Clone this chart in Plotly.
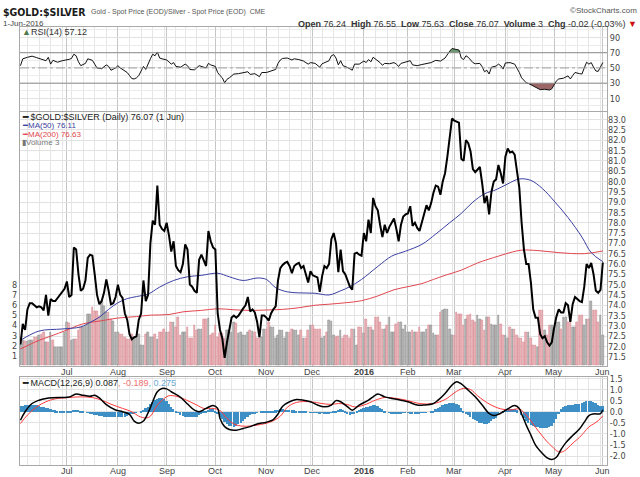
import pandas as pd
import plotly.graph_objects as go

W, H = 640, 477
FONT = "Liberation Sans, Arial, sans-serif"
NARROW = "Liberation Sans Narrow, Arial Narrow, DejaVu Sans Condensed, Liberation Sans, sans-serif"

# trading days on the chart: 3 Jun 2015 .. 1 Jun 2016
holidays = pd.to_datetime(["2015-07-03", "2015-09-07", "2015-11-26", "2015-12-25", "2016-01-01",
                           "2016-01-18", "2016-02-15", "2016-03-25", "2016-05-30"])
days = pd.bdate_range("2015-06-03", "2016-06-01")
days = days[~days.isin(holidays)]
n = len(days)

# daily close of the ratio
close = [
    72.1, 73.1, 72.8, 73.8, 74.1, 74.1, 74.0, 73.9, 73.95, 73.9,
    73.75, 74.5, 73.5, 74.3, 74.2, 74.2, 74.35, 74.5, 74.7, 74.8,
    75.15, 74.4, 74.5, 76.8, 76.7, 75.5, 74.7, 74.8, 75.2, 76.3,
    76.45, 76.4, 75.5, 74.5, 74.05, 74.2, 74.6, 75.25, 74.7, 74.05,
    74.1, 74.4, 75.0, 74.5, 74.35, 73.6, 73.3, 72.6, 72.35, 72.45,
    72.5, 73.3, 73.6, 75.2, 74.2, 74.5, 77.0, 78.1, 77.9, 79.8,
    77.9, 77.7, 77.6, 78.0, 77.4, 76.6, 77.1, 75.9, 75.7, 75.6,
    76.0, 76.95, 76.7, 75.0, 74.9, 74.7, 74.6, 76.2, 76.45, 76.2,
    75.9, 77.6, 77.1, 76.8, 76.7, 73.6, 72.8, 72.4, 71.45, 72.2,
    72.8, 73.4, 73.5, 73.4, 73.5, 73.7, 73.85, 74.0, 74.4, 73.7,
    73.8, 73.65, 73.2, 72.45, 73.5, 73.5, 73.4, 73.25, 73.6, 73.8,
    73.95, 75.2, 75.8, 75.95, 76.05, 76.1, 75.9, 75.55, 75.9, 76.0,
    76.05, 75.8, 75.9, 75.5, 75.1, 75.65, 75.45, 75.4, 75.35, 74.65,
    75.4, 75.9, 75.8, 76.0, 77.2, 77.5, 77.0, 75.6, 76.7, 75.65,
    75.5, 75.2, 74.9, 74.75, 76.5, 76.55, 76.45, 76.4, 77.5, 77.1,
    78.15, 77.5, 79.2, 78.8, 78.6, 77.9, 77.3, 77.9, 77.5, 77.8,
    78.0, 78.2, 77.7, 77.1, 77.9, 78.3, 78.4, 78.45, 78.8, 77.85,
    78.0, 77.75, 77.6, 78.0, 78.45, 78.85, 78.6, 78.95, 79.45, 79.8,
    79.75, 79.35, 80.0, 80.4, 81.2, 82.2, 83.05, 82.95, 82.9, 82.85,
    81.1, 81.0, 82.0, 81.85, 81.45, 80.6, 80.45, 80.6, 80.7, 79.9,
    78.95, 79.3, 78.4, 79.5, 80.0, 80.1, 80.8, 80.4, 79.9, 81.2,
    81.6, 81.4, 81.45, 81.3, 80.6, 79.7, 78.0, 76.7, 76.0, 76.0,
    75.1, 73.8, 73.4, 73.4, 72.6, 72.4, 72.5, 72.2, 72.05, 72.2,
    72.9, 73.45, 73.8, 73.65, 73.65, 74.1, 74.0, 73.2, 74.05, 74.4,
    74.3, 74.2, 74.15, 74.9, 76.0, 75.8, 76.05, 75.5, 74.7, 74.6,
    74.75, 76.07,
]

volume = [
    2.8, 2.5, 2.4, 2.4, 2.5, 2.5, 2.8, 2.8, 3.0, 3.1,
    3.3, 2.3, 2.3, 3.3, 2.5, 1.8, 1.8, 1.8, 1.8, 3.3,
    4.3, 4.2, 2.5, 2.6, 2.6, 3.5, 3.8, 3.8, 4.0, 5.1,
    5.1, 5.8, 5.4, 5.4, 4.9, 6.4, 5.9, 5.3, 5.3, 4.6,
    4.4, 3.3, 3.3, 3.1, 3.1, 2.8, 2.6, 2.6, 3.1, 2.8,
    2.8, 3.1, 2.0, 2.0, 3.1, 3.3, 2.8, 2.8, 3.1, 2.6,
    3.3, 3.3, 3.6, 3.3, 3.3, 4.3, 4.3, 3.8, 4.8, 3.0,
    3.3, 3.3, 3.8, 2.7, 2.7, 4.0, 3.5, 3.6, 3.6, 4.6,
    4.6, 4.7, 3.0, 3.2, 4.0, 2.8, 3.2, 3.2, 2.7, 3.5,
    3.5, 3.3, 4.3, 4.2, 3.2, 3.3, 3.0, 3.0, 3.3, 3.5,
    3.4, 3.3, 2.7, 2.7, 2.8, 3.6, 3.6, 4.3, 3.8, 3.8,
    2.7, 3.0, 3.5, 3.5, 2.7, 3.3, 3.3, 3.6, 3.5, 3.5,
    3.0, 3.5, 2.7, 2.7, 3.5, 4.0, 4.0, 3.6, 3.6, 3.6,
    2.7, 2.9, 3.3, 4.5, 4.4, 3.0, 2.8, 2.9, 3.5, 2.7,
    3.0, 3.0, 2.7, 3.6, 3.6, 2.0, 3.8, 3.8, 3.2, 4.6,
    3.8, 3.8, 3.5, 4.8, 4.8, 4.3, 3.6, 3.6, 4.0, 4.8,
    3.3, 3.3, 4.1, 4.3, 4.3, 3.6, 4.0, 3.3, 3.3, 3.5,
    3.3, 3.3, 3.8, 3.3, 3.3, 3.6, 4.0, 4.0, 3.2, 3.0,
    3.0, 5.3, 5.5, 5.6, 5.6, 3.6, 3.0, 3.0, 5.3, 5.1,
    5.1, 4.0, 4.6, 5.0, 5.1, 4.5, 4.3, 5.0, 4.6, 4.5,
    3.5, 4.8, 4.8, 4.1, 4.0, 4.0, 5.0, 4.1, 3.0, 3.0,
    2.7, 3.8, 3.6, 3.6, 3.0, 2.7, 2.7, 2.3, 3.3, 3.3,
    2.7, 2.0, 2.0, 1.8, 5.5, 5.5, 3.5, 3.0, 4.0, 4.0,
    3.6, 4.3, 4.3, 3.6, 4.8, 4.8, 4.3, 4.5, 3.8, 3.8,
    4.3, 5.0, 5.0, 4.0, 4.6, 4.6, 6.4, 5.5, 5.5, 4.3,
    5.0, 3.0,
]

ma50_day = [0, 8, 18, 26, 30, 34, 38, 42, 46, 50, 55, 60, 66, 72, 78, 85, 90, 96, 102, 106,
            110, 115, 120, 127, 133, 138, 142, 147, 154, 160, 166, 173, 179, 185, 190, 195,
            200, 205, 210, 215, 220, 225, 230, 236, 242, 246, 251]
ma50 = [72.3, 72.75, 72.85, 72.95, 73.17, 73.42, 73.8, 74.12, 74.32, 74.42, 74.54, 74.88,
        75.2, 75.38, 75.45, 75.55, 75.38, 75.2, 75.32, 75.25, 74.85, 74.65, 74.6, 74.58,
        74.5, 74.7, 74.9, 75.25, 75.88, 76.38, 76.62, 76.95, 77.45, 78.0, 78.45, 79.0,
        79.4, 79.6, 79.88, 80.12, 80.05, 79.65, 79.05, 78.25, 77.3, 76.55, 76.11]

ma200_day = [0, 8, 13, 20, 27, 35, 42, 50, 56, 64, 70, 78, 85, 92, 99, 106, 113, 120, 127, 133,
             140, 147, 154, 161, 167, 173, 178, 183, 190, 197, 206, 212, 216, 223, 232, 243, 251]
ma200 = [71.88, 72.3, 72.5, 72.8, 73.1, 73.25, 73.38, 73.45, 73.52, 73.55, 73.68, 73.75,
         73.83, 73.78, 73.75, 73.77, 73.8, 73.88, 74.0, 74.05, 74.12, 74.22, 74.45, 74.75,
         74.9, 75.05, 75.25, 75.45, 75.7, 76.05, 76.38, 76.58, 76.67, 76.65, 76.55, 76.5, 76.63]

rsi_pts = [
    (0, 53), (1, 62), (3, 64), (5, 65.5), (7, 63.5), (9, 62), (11, 59.5), (12, 64), (13, 55),
    (14, 60), (16, 57.5), (18, 59.5), (20, 60.5), (21, 61.3), (22, 62.5), (23, 68), (24, 66),
    (25, 58), (26, 53), (28, 56), (29, 62), (31, 60), (32, 55), (33, 50), (35, 49), (37, 54),
    (38, 52), (39, 47), (41, 50), (42, 53), (43, 50), (45, 46.5), (46, 44), (47, 40), (48, 36),
    (49, 35.5), (50, 37), (51, 40), (52, 46), (53, 52), (54, 48), (55, 56), (56, 62), (57, 68),
    (58, 66), (59, 71), (60, 63), (61, 62), (63, 60.5), (64, 58), (65, 55), (66, 57), (67, 52),
    (69, 51), (71, 55), (72, 53), (73, 48), (75, 47.5), (77, 53), (79, 51), (80, 50), (81, 56),
    (82, 54), (84, 52), (85, 44), (86, 40), (87, 37), (88, 30.5), (89, 35), (90, 37), (92, 42),
    (94, 42.5), (96, 43.5), (98, 45), (99, 41.5), (101, 42.5), (103, 38.5), (104, 44), (106, 44),
    (108, 45.5), (110, 48), (111, 56), (112, 60.5), (113, 62.5), (115, 63), (117, 60.5),
    (118, 62), (120, 61), (122, 59), (124, 55), (125, 57), (127, 56), (129, 51), (130, 55.5),
    (132, 58), (133, 59.5), (134, 66), (135, 67.5), (136, 63), (137, 54), (138, 59.5), (139, 53),
    (141, 50.5), (143, 47), (144, 55), (146, 55), (148, 59), (149, 57), (150, 61), (151, 58),
    (152, 64), (153, 62), (155, 57), (156, 53.5), (157, 56), (159, 55.5), (161, 57), (162, 55),
    (163, 52), (164, 56), (166, 58), (168, 59.5), (169, 54), (171, 53), (173, 54.5), (175, 56),
    (177, 57), (179, 60), (181, 59), (183, 63), (184, 68), (185, 72), (186, 75.5), (188, 74.5),
    (189, 73.5), (190, 63), (191, 61), (192, 66), (193, 64), (195, 57), (196, 55.5), (198, 56),
    (199, 51.5), (200, 45), (201, 47), (202, 42), (203, 51), (205, 52.5), (206, 55), (207, 53),
    (208, 48.5), (209, 56.5), (211, 57), (213, 55), (214, 50), (215, 44), (216, 37), (217, 33),
    (218, 30.5), (219, 29.5), (220, 28), (221, 26), (222, 24.5), (224, 21.5), (226, 22),
    (228, 21), (229, 22.5), (230, 28), (231, 33), (232, 35.5), (234, 36.5), (236, 39.5),
    (237, 35.5), (238, 40), (239, 44), (241, 42.5), (242, 42), (243, 50), (244, 57.5), (245, 55),
    (246, 57), (247, 51), (248, 46), (249, 45.5), (250, 51), (251, 57.12),
]
rsi_day = [d for d, v in rsi_pts]
rsi = [v for d, v in rsi_pts]

macd_pts = [
    (0, -0.38), (2, 0.0), (5, 0.37), (8, 0.52), (11, 0.6), (14, 0.63), (18, 0.64), (21, 0.66),
    (24, 0.8), (27, 0.74), (30, 0.7), (32, 0.74), (34, 0.62), (37, 0.32), (41, 0.08), (44, 0.0),
    (47, -0.12), (49, -0.42), (51, -0.52), (53, -0.42), (55, -0.05), (57, 0.45), (59, 0.9),
    (61, 1.05), (63, 1.03), (65, 0.9), (69, 0.65), (72, 0.35), (75, 0.07), (77, 0.0), (80, 0.15),
    (83, 0.28), (85, 0.15), (86, -0.3), (88, -0.67), (90, -0.8), (93, -0.83), (96, -0.75),
    (99, -0.67), (102, -0.55), (106, -0.47), (109, -0.35), (111, -0.1), (113, 0.25), (116, 0.45),
    (119, 0.55), (122, 0.52), (125, 0.45), (128, 0.3), (131, 0.22), (134, 0.3), (136, 0.5),
    (138, 0.45), (141, 0.22), (143, 0.07), (146, 0.3), (150, 0.52), (152, 0.67), (154, 0.8),
    (157, 0.67), (160, 0.6), (164, 0.52), (167, 0.45), (171, 0.3), (174, 0.3), (178, 0.37),
    (180, 0.52), (183, 0.82), (186, 1.2), (188, 1.35), (190, 1.25), (193, 0.97), (196, 0.67),
    (199, 0.3), (202, -0.08), (204, -0.17), (206, -0.12), (208, 0.0), (210, 0.13), (213, 0.28),
    (215, 0.15), (216, -0.1), (218, -0.6), (220, -1.05), (222, -1.5), (225, -1.88), (227, -2.08),
    (229, -2.15), (231, -2.05), (233, -1.7), (235, -1.4), (238, -1.07), (241, -0.77),
    (243, -0.47), (245, -0.17), (247, -0.1), (250, -0.08), (251, 0.087),
]
macd_day = [d for d, v in macd_pts]
macd = [v for d, v in macd_pts]

signal_pts = [
    (0, -0.53), (3, -0.15), (7, 0.22), (11, 0.45), (15, 0.58), (21, 0.64), (26, 0.67), (31, 0.64),
    (35, 0.52), (39, 0.34), (44, 0.15), (48, 0.0), (51, -0.2), (54, -0.28), (56, -0.2), (59, 0.3),
    (62, 0.6), (64, 0.72), (67, 0.7), (71, 0.55), (76, 0.3), (79, 0.15), (83, 0.15), (86, 0.05),
    (89, -0.3), (92, -0.55), (96, -0.65), (102, -0.6), (108, -0.45), (112, -0.2), (115, 0.2),
    (119, 0.42), (125, 0.45), (130, 0.37), (134, 0.33), (137, 0.37), (141, 0.32), (144, 0.22),
    (148, 0.3), (153, 0.52), (157, 0.64), (162, 0.6), (167, 0.5), (172, 0.37), (178, 0.37),
    (183, 0.55), (188, 0.92), (191, 1.05), (194, 1.0), (197, 0.72), (202, 0.35), (207, 0.13),
    (211, 0.08), (215, 0.12), (218, -0.15), (222, -0.7), (227, -1.35), (229, -1.55),
    (231, -1.75), (233, -1.82), (235, -1.72), (237, -1.52), (239, -1.33), (241, -1.15),
    (243, -0.92), (245, -0.68), (247, -0.55), (249, -0.4), (251, -0.189),
]
signal_day = [d for d, v in signal_pts]
signal = [v for d, v in signal_pts]

hist = [
    0.27, 0.29, 0.31, 0.32, 0.33, 0.34, 0.34, 0.32, 0.29, 0.25,
    0.22, 0.2, 0.18, 0.14, 0.11, 0.08, 0.07, 0.06, 0.05, 0.04,
    0.03, 0.02, 0.05, 0.1, 0.11, 0.1, 0.06, 0.02, 0.0, -0.04,
    -0.08, -0.1, -0.12, -0.15, -0.17, -0.19, -0.2, -0.21, -0.22, -0.22,
    -0.22, -0.22, -0.22, -0.21, -0.2, -0.2, -0.17, -0.14, -0.1, -0.06,
    -0.03, 0.0, 0.04, 0.1, 0.17, 0.25, 0.35, 0.45, 0.53, 0.6,
    0.62, 0.62, 0.58, 0.5, 0.38, 0.25, 0.15, 0.05, -0.04, -0.12,
    -0.17, -0.2, -0.21, -0.22, -0.22, -0.22, -0.2, -0.15, -0.07, 0.02,
    0.07, 0.1, 0.12, 0.12, 0.05, -0.05, -0.2, -0.32, -0.45, -0.55,
    -0.62, -0.64, -0.65, -0.62, -0.55, -0.48, -0.4, -0.32, -0.2, -0.14,
    -0.08, -0.05, -0.02, 0.0, 0.02, 0.03, 0.05, 0.05, 0.05, 0.06,
    0.08, 0.1, 0.12, 0.12, 0.11, 0.1, 0.09, 0.08, 0.08, 0.07,
    0.06, 0.05, 0.03, 0.01, 0.0, -0.02, -0.03, -0.03, -0.04, -0.05,
    -0.03, -0.05, -0.06, -0.05, -0.04, 0.02, 0.07, 0.1, 0.12, 0.1,
    0.04, -0.06, -0.12, -0.1, -0.05, 0.05, 0.1, 0.15, 0.2, 0.22,
    0.25, 0.28, 0.3, 0.3, 0.28, 0.2, 0.12, 0.03, 0.0, -0.03,
    -0.05, -0.05, -0.05, -0.06, -0.05, -0.04, -0.03, -0.04, -0.05, -0.06,
    -0.06, -0.05, -0.05, -0.04, -0.03, -0.02, 0.0, 0.03, 0.07, 0.12,
    0.18, 0.25, 0.3, 0.35, 0.38, 0.4, 0.42, 0.42, 0.38, 0.3,
    0.18, 0.05, -0.05, -0.15, -0.23, -0.3, -0.37, -0.42, -0.47, -0.5,
    -0.52, -0.52, -0.48, -0.42, -0.33, -0.25, -0.12, 0.0, 0.06, 0.1,
    0.12, 0.13, 0.13, 0.13, 0.08, 0.0, -0.12, -0.25, -0.38, -0.5,
    -0.57, -0.62, -0.66, -0.68, -0.71, -0.73, -0.73, -0.72, -0.68, -0.62,
    -0.48, -0.3, -0.1, 0.15, 0.22, 0.28, 0.31, 0.33, 0.34, 0.35,
    0.37, 0.38, 0.41, 0.45, 0.48, 0.5, 0.5, 0.47, 0.42, 0.33,
    0.29, 0.275,
]

price_ticks = [71.5 + 0.5 * k for k in range(24)]
macd_ticks = [-2.0, -1.5, -1.0, -0.5, 0.0, 0.5, 1.0, 1.5]

day = list(range(n))
month_day = [i for i in range(1, n) if days[i].month != days[i - 1].month]
month_txt = ["<b>%d</b>" % days[i].year if days[i].month == 1 else days[i].strftime("%b") for i in month_day]
week_day = [i for i in range(1, n) if days[i].weekday() < days[i - 1].weekday()]

vol_fill = ["#b4b4b4" if i == 0 or close[i] >= close[i - 1] else "#eab2b7" for i in day]
vol_edge = ["#8e8e8e" if i == 0 or close[i] >= close[i - 1] else "#d98c94" for i in day]

fig = go.Figure()

# RSI panel
fig.add_trace(go.Scatter(x=rsi_day, y=[70] * len(rsi_day), xaxis="x", yaxis="y", mode="lines",
                         line=dict(width=0), hoverinfo="skip"))
fig.add_trace(go.Scatter(x=rsi_day, y=[max(v, 70) for v in rsi], xaxis="x", yaxis="y", mode="lines",
                         line=dict(width=0), fill="tonexty", fillcolor="#6f9970", hoverinfo="skip"))
fig.add_trace(go.Scatter(x=rsi_day, y=[30] * len(rsi_day), xaxis="x", yaxis="y", mode="lines",
                         line=dict(width=0), hoverinfo="skip"))
fig.add_trace(go.Scatter(x=rsi_day, y=[min(v, 30) for v in rsi], xaxis="x", yaxis="y", mode="lines",
                         line=dict(width=0), fill="tonexty", fillcolor="#9c6666", hoverinfo="skip"))
fig.add_trace(go.Scatter(x=rsi_day, y=rsi, xaxis="x", yaxis="y", mode="lines",
                         line=dict(color="#111", width=1)))

# price panel: volume behind, price and averages on top
fig.add_trace(go.Bar(x=day, y=volume, xaxis="x2", yaxis="y3", width=0.72,
                     marker=dict(color=vol_fill, line=dict(color=vol_edge, width=0.6))))
fig.add_trace(go.Scatter(x=ma200_day, y=ma200, xaxis="x2", yaxis="y4", mode="lines",
                         line=dict(color="#e0474f", width=1, shape="spline")))
fig.add_trace(go.Scatter(x=ma50_day, y=ma50, xaxis="x2", yaxis="y4", mode="lines",
                         line=dict(color="#3b3fa0", width=1, shape="spline")))
fig.add_trace(go.Scatter(x=day, y=close, xaxis="x2", yaxis="y4", mode="lines",
                         line=dict(color="#000", width=2)))

# MACD panel
fig.add_trace(go.Bar(x=day, y=hist, xaxis="x3", yaxis="y5", width=0.75,
                     marker=dict(color="#3d8fc6", line=dict(width=0))))
fig.add_trace(go.Scatter(x=signal_day, y=signal, xaxis="x3", yaxis="y5", mode="lines",
                         line=dict(color="#ff3b3b", width=1, shape="spline")))
fig.add_trace(go.Scatter(x=macd_day, y=macd, xaxis="x3", yaxis="y5", mode="lines",
                         line=dict(color="#000", width=1.5, shape="spline")))

xdom = [20 / W, 607 / W]


def xax(anchor):
    return dict(domain=xdom, anchor=anchor, range=[-0.2, 252.8], tickmode="array",
                tickvals=month_day, showticklabels=False, ticks="",
                showgrid=True, gridcolor="#c6c6c6", gridwidth=1, zeroline=False,
                minor=dict(tickmode="array", tickvals=week_day, showgrid=True, gridcolor="#e6e6e6"),
                showline=True, linecolor="#a9a9a9", mirror=True)


def ydom(top, bottom):
    return [1 - bottom / H, 1 - top / H]


yfont = dict(family=NARROW, size=9, color="#444")

fig.update_layout(
    width=W, height=H, margin=dict(l=0, r=0, t=0, b=0),
    paper_bgcolor="white", plot_bgcolor="white", showlegend=False, bargap=0,
    font=dict(family=FONT, size=9, color="#333"),
    xaxis=xax("y"), xaxis2=xax("y3"), xaxis3=xax("y5"),
    yaxis=dict(domain=ydom(24, 109), anchor="x", range=[-7, 104], side="right",
               tickmode="array", tickvals=[10, 30, 50, 70, 90], ticks="", showgrid=True,
               gridcolor="#e2e2e2", zeroline=False,
               minor=dict(tickmode="array", tickvals=[0, 20, 40, 60, 80, 100], showgrid=True,
                          gridcolor="#ececec"),
               showline=True, linecolor="#a9a9a9", mirror=True, tickfont=yfont),
    yaxis3=dict(domain=ydom(110, 365), anchor="x2", range=[0, 25.1], side="left",
                tickmode="array", tickvals=[1, 2, 3, 4, 5, 6, 7, 8], ticks="", showgrid=False,
                zeroline=False, showline=True, linecolor="#a9a9a9", mirror=True, tickfont=yfont),
    yaxis4=dict(overlaying="y3", anchor="x2", range=[71.07, 83.35], side="right",
                tickmode="array", tickvals=price_ticks,
                ticktext=["%.1f" % v for v in price_ticks], ticks="", showgrid=True,
                gridcolor="#e2e2e2", zeroline=False, tickfont=yfont),
    yaxis5=dict(domain=ydom(376, 465), anchor="x3", range=[-2.40, 1.58], side="right",
                tickmode="array", tickvals=macd_ticks,
                ticktext=["%.1f" % v for v in macd_ticks], ticks="", showgrid=True,
                gridcolor="#e2e2e2", zeroline=False, showline=True, linecolor="#a9a9a9",
                mirror=True, tickfont=yfont),
)

# RSI reference lines
fig.add_shape(type="line", xref="x domain", yref="y", x0=0, x1=1, y0=70, y1=70,
              line=dict(color="#8c8c8c", width=1))
fig.add_shape(type="line", xref="x domain", yref="y", x0=0, x1=1, y0=30, y1=30,
              line=dict(color="#8c8c8c", width=1))
fig.add_shape(type="line", xref="x domain", yref="y", x0=0, x1=1, y0=50, y1=50,
              line=dict(color="#a0a0a0", width=1, dash="dashdot"))

# month labels under the price panel and the MACD panel
for xref, ypx in (("x2", 371), ("x3", 471)):
    for d, txt in zip(month_day, month_txt):
        fig.add_annotation(x=d, y=1 - ypx / H, xref=xref, yref="paper", text=txt,
                           showarrow=False, xanchor="center", yanchor="middle", borderpad=0,
                           font=dict(family=FONT, size=9, color="#444"))


def note(x, y, text, size=9, color="#333", anchor="left", family=FONT):
    fig.add_annotation(x=x / W, y=1 - y / H, xref="paper", yref="paper", text=text,
                       showarrow=False, xanchor=anchor, yanchor="middle", borderpad=0,
                       font=dict(size=size, color=color, family=family))


note(2, 9, "<b>$GOLD:$SILVER</b>", size=10.5, color="#1a1a1a", family=NARROW)
note(90, 9, "Gold - Spot Price (EOD)/Silver - Spot Price (EOD)  CME", size=7, color="#555")
note(638, 8, "©StockCharts.com", size=8, color="#555", anchor="right")
note(2, 21, "1-Jun-2016", size=8, color="#444")
note(638, 21, "<b>Open</b> 76.24  <b>High</b> 76.55  <b>Low</b> 75.63  <b>Close</b> 76.07  "
              "<b>Volume</b> 3  <b>Chg</b> -0.02 (-0.03%) <span style='color:#cc1111'>▼</span>",
     size=9, color="#333", anchor="right")

note(21, 29, "<span style='color:#4d7a4d'>▲</span>RSI(14) 57.12", size=9, color="#333")

note(21, 115, "<b>━</b> $GOLD:$SILVER (Daily) 76.07 (1 Jun)", size=9, color="#222")
note(21, 123.5, "━MA(50) 76.11", size=8, color="#3b3fa0")
note(21, 132, "━MA(200) 76.63", size=8, color="#e0474f")
note(21, 140.5, "▮Volume 3", size=8, color="#777")

note(21, 382, "<b>━</b> MACD(12,26,9) 0.087<span style='color:#f07070'>, -0.189</span>"
              "<span style='color:#6aaad6'>, 0.275</span>", size=9, color="#222")

fig.write_html("out.html", config={"displayModeBar": False},
               post_script="document.body.style.margin='0';document.body.style.overflow='hidden';")
